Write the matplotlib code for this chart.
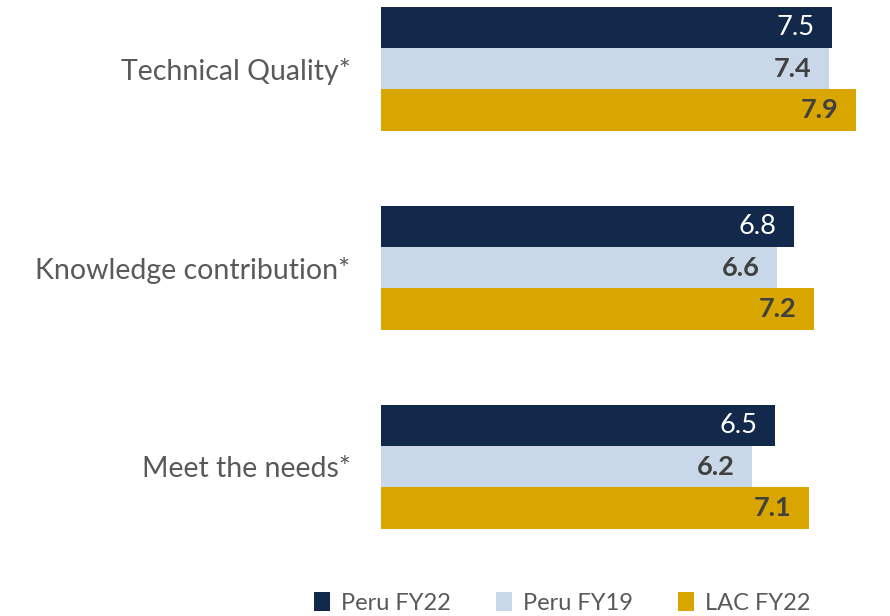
import matplotlib
matplotlib.use("Agg")
import matplotlib.pyplot as plt
import numpy as np

categories = ["Technical Quality*", "Knowledge contribution*", "Meet the needs*"]
series_names = ["Peru FY22", "Peru FY19", "LAC FY22"]
peru_fy22 = [7.51, 6.88, 6.56]
peru_fy19 = [7.46, 6.60, 6.19]
lac_fy22 = [7.91, 7.21, 7.13]
labels_fy22 = ["7.5", "6.8", "6.5"]
labels_fy19 = ["7.4", "6.6", "6.2"]
labels_lac = ["7.9", "7.2", "7.1"]

colors = ["#13294B", "#C8D8E8", "#D9A600"]
label_colors = ["white", "#404040", "#404040"]
label_weights = ["normal", "bold", "bold"]

plt.rcParams['font.family'] = ['Lato', 'DejaVu Sans']

W, H = 890, 616
fig = plt.figure(figsize=(W / 100, H / 100), dpi=100)
ax = fig.add_axes([381 / W, 1 - 560 / H, (W - 381) / W, 560 / H])

h = 41.3 / 199
y = np.arange(len(categories))
series = [peru_fy22, peru_fy19, lac_fy22]
labels = [labels_fy22, labels_fy19, labels_lac]
for k, (vals, labs) in enumerate(zip(series, labels)):
    yy = y + (k - 1) * h
    bars = ax.barh(yy, vals, height=h, color=colors[k], label=series_names[k])
    for b, v, lab in zip(bars, vals, labs):
        ax.text(v - 0.29, b.get_y() + b.get_height() / 2, lab, ha="right", va="center",
                fontsize=19.5, color=label_colors[k], fontweight=label_weights[k])

ax.set_xlim(0, (W - 381) / 60)
ax.set_ylim((560 - 68.7) / 199, -68.7 / 199)
ax.set_yticks(y)
ax.set_yticklabels(categories, fontsize=20.5, color="#595959")
ax.tick_params(axis="y", length=0, pad=22)
ax.set_xticks([])
for s in ax.spines.values():
    s.set_visible(False)

leg = fig.legend(loc="center", bbox_to_anchor=(562 / W, 1 - 603 / H), ncol=3, frameon=False,
                 fontsize=17, handlelength=0.7, handleheight=0.85, handletextpad=0.45,
                 columnspacing=1.9, labelcolor="#595959")

fig.savefig("out.png", dpi=100)
